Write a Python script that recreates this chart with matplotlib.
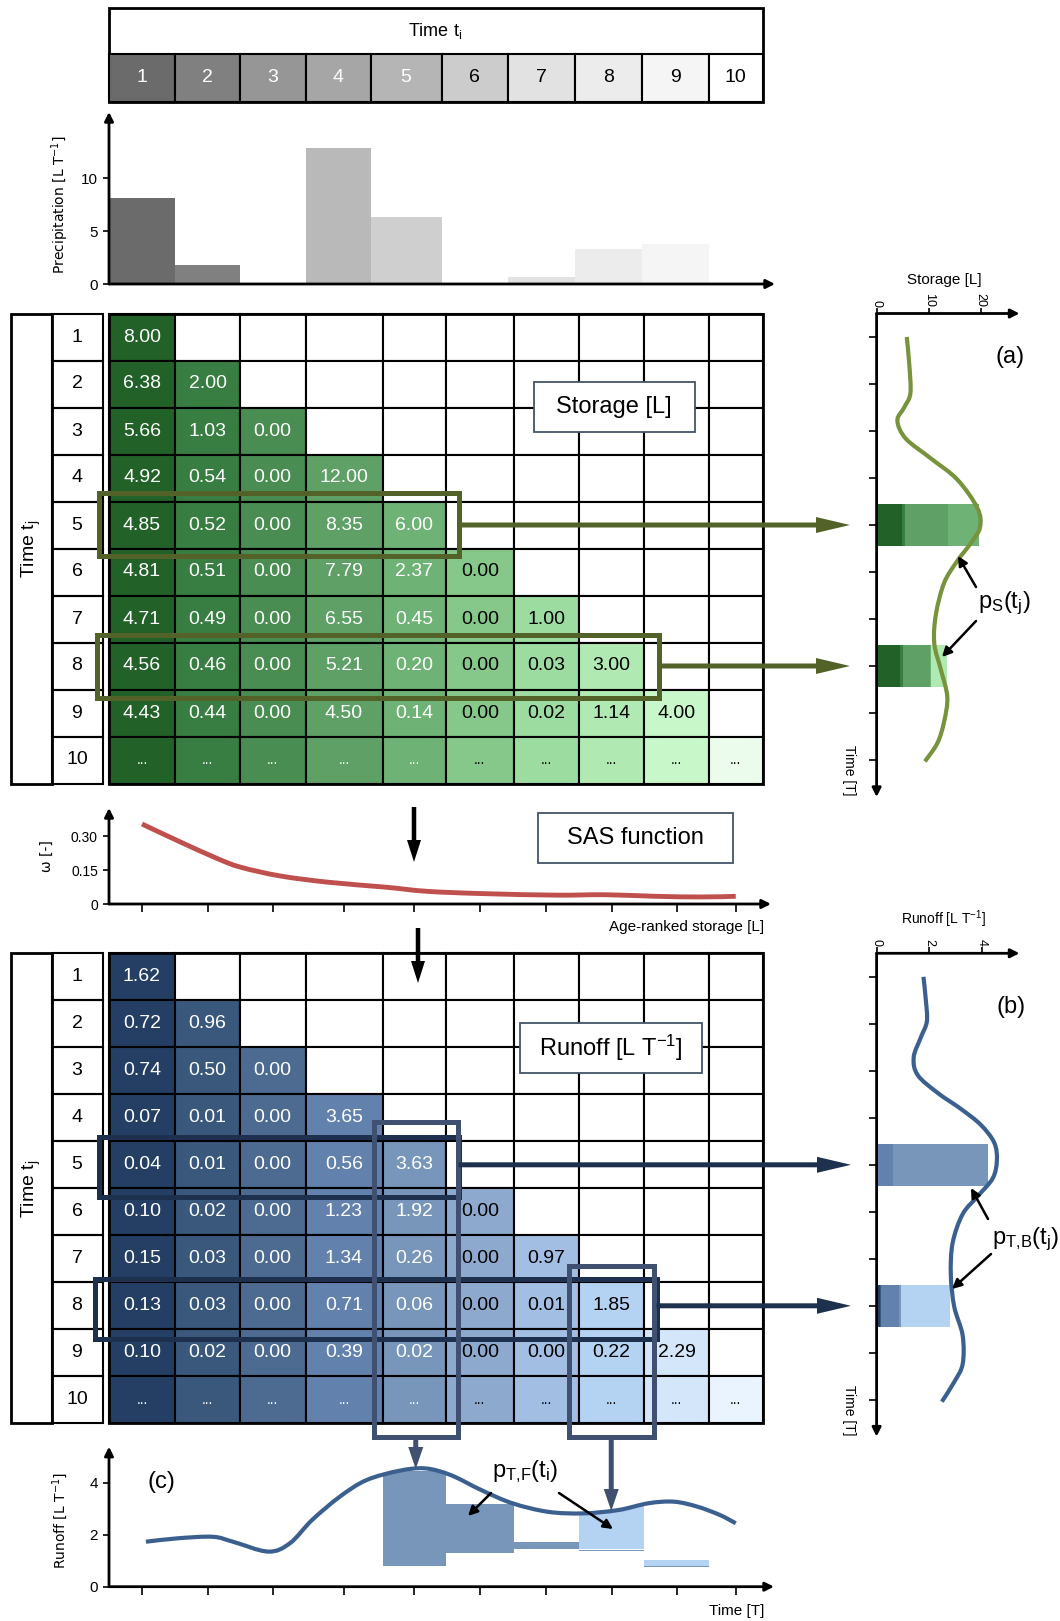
import numpy as np
import matplotlib.pyplot as plt
from matplotlib.patches import Rectangle, FancyArrow, PathPatch
from matplotlib.path import Path
from matplotlib import font_manager

names = {f.name for f in font_manager.fontManager.ttflist}
main_font = 'Liberation Sans Narrow' if 'Liberation Sans Narrow' in names else 'Liberation Sans'
plt.rcParams['font.family'] = [main_font, 'DejaVu Sans']
plt.rcParams['mathtext.default'] = 'regular'

# ---- data ----
time_steps = [1, 2, 3, 4, 5, 6, 7, 8, 9, 10]
precipitation = [8.1, 1.8, 0.0, 12.9, 6.3, 0.0, 0.7, 3.3, 3.8, 0.0]

storage = [
    [8.00],
    [6.38, 2.00],
    [5.66, 1.03, 0.00],
    [4.92, 0.54, 0.00, 12.00],
    [4.85, 0.52, 0.00, 8.35, 6.00],
    [4.81, 0.51, 0.00, 7.79, 2.37, 0.00],
    [4.71, 0.49, 0.00, 6.55, 0.45, 0.00, 1.00],
    [4.56, 0.46, 0.00, 5.21, 0.20, 0.00, 0.03, 3.00],
    [4.43, 0.44, 0.00, 4.50, 0.14, 0.00, 0.02, 1.14, 4.00],
]
runoff = [
    [1.62],
    [0.72, 0.96],
    [0.74, 0.50, 0.00],
    [0.07, 0.01, 0.00, 3.65],
    [0.04, 0.01, 0.00, 0.56, 3.63],
    [0.10, 0.02, 0.00, 1.23, 1.92, 0.00],
    [0.15, 0.03, 0.00, 1.34, 0.26, 0.00, 0.97],
    [0.13, 0.03, 0.00, 0.71, 0.06, 0.00, 0.01, 1.85],
    [0.10, 0.02, 0.00, 0.39, 0.02, 0.00, 0.00, 0.22, 2.29],
]

sas_age = [1.0, 1.53, 2.13, 2.5, 3.1, 3.78, 4.6, 5.19, 6.03, 7.16, 7.9, 8.67, 9.42, 10.0]
sas_omega = [0.353, 0.281, 0.203, 0.163, 0.124, 0.096, 0.074, 0.056, 0.046, 0.039, 0.041, 0.034, 0.031, 0.034]

storage_curve_t = [1.0, 1.6, 2.2, 2.5, 2.78, 3.16, 3.58, 4.03, 4.64, 5.05, 5.39, 5.77, 6.23, 6.91, 7.52, 8.05, 8.65, 9.18, 9.64, 10.03]
storage_curve_s = [5.8, 6.3, 6.5, 5.3, 4.0, 5.6, 10.4, 15.5, 19.4, 19.9, 18.1, 15.5, 13.0, 11.4, 11.1, 12.3, 13.6, 13.0, 11.7, 9.3]

runoff_curve_t = [1.0, 1.49, 1.95, 2.29, 2.71, 3.09, 3.47, 3.81, 4.15, 4.53, 4.91, 5.29, 5.67, 6.05, 6.66, 7.34, 8.02, 8.63, 9.24, 9.62, 10.04]
runoff_curve_q = [1.78, 1.87, 1.91, 1.68, 1.41, 1.56, 2.32, 3.2, 3.96, 4.47, 4.57, 4.41, 3.84, 3.27, 2.89, 2.82, 2.95, 3.27, 3.27, 2.95, 2.48]

flow_curve_t = [1.06, 1.54, 2.08, 2.39, 2.93, 3.24, 3.55, 3.94, 4.32, 4.79, 5.17, 5.56, 6.02, 6.49, 7.03, 7.57, 8.11, 8.57, 8.96, 9.35, 9.73, 10.08]
flow_curve_q = [1.73, 1.86, 1.92, 1.73, 1.35, 1.67, 2.56, 3.46, 4.10, 4.46, 4.55, 4.29, 3.72, 3.21, 2.88, 2.82, 2.95, 3.21, 3.27, 3.08, 2.76, 2.44]

fwd_col5_bottom = [0.81, 1.28, 1.45, 1.36, 0.77]
fwd_col8_bottom = [1.44, 0.79]

# ---- styles / layout ----
GRAYS = ['#6b6b6b', '#808080', '#969696', '#a6a6a6', '#b5b5b5', '#cccccc', '#e2e2e2', '#ececec', '#f5f5f5', '#ffffff']
PRECIP_COLORS = ['#6b6b6b', '#808080', '#969696', '#b9b9b9', '#cfcfcf', '#cccccc', '#e2e2e2', '#ececec', '#f5f5f5', '#ffffff']
GREENS = ['#226229', '#387d41', '#4a8d52', '#5ea066', '#6eb276', '#86c78a', '#9cdca0', '#b0eab2', '#c8f8ca', '#ecfcec']
BLUES = ['#243f63', '#3a587c', '#4d6b90', '#6281ac', '#7896b9', '#8daace', '#a2bee2', '#b4d2f2', '#d4e6fa', '#eaf4fe']
OLIVE = '#526229'
NAVY = '#1d304d'
SLATE = '#3f5070'
W, H = 1060, 1621
COLS = [109, 175, 240, 305.5, 382.5, 446, 513.5, 579, 644, 709, 762.5]
HDR_COLS = [109, 175, 240, 305.5, 370.5, 441.5, 508, 575, 642, 709, 762.5]
CENTERS = [(a + b) / 2 for a, b in zip(COLS[:-1], COLS[1:])]
ROW_H = 47
S_TOP, R_TOP = 313.5, 953.3

fig = plt.figure(figsize=(W / 100, H / 100), dpi=100)


def box(x0, y0, x1, y1):
    return [x0 / W, 1 - y1 / H, (x1 - x0) / W, (y1 - y0) / H]


def smooth(x, y):
    # smoothed line through the read points (cubic Bezier segments)
    pts = np.column_stack([x, y]).astype(float)
    verts, codes = [pts[0]], [Path.MOVETO]
    n = len(pts)
    for k in range(n - 1):
        p0 = pts[max(k - 1, 0)]
        p1, p2 = pts[k], pts[k + 1]
        p3 = pts[min(k + 2, n - 1)]
        verts += [p1 + (p2 - p0) / 6, p2 - (p3 - p1) / 6, p2]
        codes += [Path.CURVE4] * 3
    return verts, codes


def curve(ax, x, y, color, lw):
    verts, codes = smooth(x, y)
    ax.add_patch(PathPatch(Path(verts, codes), fill=False, ec=color, lw=lw, capstyle='butt', zorder=4))


def axis_arrows(ax, corner, ends):
    for s in ax.spines.values():
        s.set_visible(False)
    ax.patch.set_alpha(0)
    for end in ends:
        ax.annotate('', xy=end, xytext=corner, xycoords='axes fraction', textcoords='axes fraction',
                    annotation_clip=False,
                    arrowprops=dict(arrowstyle='-|>', color='black', lw=2, mutation_scale=13,
                                    shrinkA=0, shrinkB=0))


# precipitation
axp = fig.add_axes(box(109, 112, 775, 284))
axp.set_xlim(109, 775)
axp.set_ylim(0, (284 - 112) / 10.57)
axp.bar(HDR_COLS[:-1], precipitation, width=np.diff(HDR_COLS), align='edge', color=PRECIP_COLORS)
axp.set_xticks([])
axp.set_yticks([0, 5, 10])
axp.tick_params(axis='y', length=4, width=1.2, labelsize=11, pad=4)
axis_arrows(axp, (0, 0), [(0, 1), (1, 0)])

# SAS function
axs = fig.add_axes(box(109, 808, 771, 904))
axs.set_xlim(109, 771)
axs.set_ylim(0, 96 / 34 * 0.15)
curve(axs, np.interp(sas_age, time_steps, CENTERS), sas_omega, '#c0504d', 3.5)
axs.set_xticks(CENTERS)
axs.set_xticklabels([])
axs.set_yticks([0, 0.15, 0.30])
axs.set_yticklabels(['0', '0.15', '0.30'])
axs.tick_params(axis='x', length=6, width=1.2)
axs.tick_params(axis='y', length=4, width=1.2, labelsize=10, pad=4)
axis_arrows(axs, (0, 0), [(0, 1), (1, 0)])

# forward travel time chart (c)
axc = fig.add_axes(box(109, 1446.7, 774, 1586.7))
axc.set_xlim(109, 774)
axc.set_ylim(0, 140 / 26)
fx = np.interp(flow_curve_t, time_steps, CENTERS)
cv, cc = smooth(fx, flow_curve_q)
clip_path = Path(cv + [(fx[-1], 0), (fx[0], 0), (fx[0], 0)],
                 cc + [Path.LINETO, Path.LINETO, Path.CLOSEPOLY])
fwd5 = [runoff[j][4] for j in range(4, 9)]
fwd8 = [runoff[j][7] for j in range(7, 9)]
b5 = axc.bar(COLS[4:9], fwd5, width=np.diff(COLS)[4:9], bottom=fwd_col5_bottom, align='edge', color=BLUES[4])
b8 = axc.bar(COLS[7:9], fwd8, width=np.diff(COLS)[7:9], bottom=fwd_col8_bottom, align='edge', color=BLUES[7])
for b in list(b5) + list(b8):
    b.set_clip_path(clip_path, axc.transData)
curve(axc, fx, flow_curve_q, '#3b6090', 3)
axc.set_xticks(CENTERS)
axc.set_xticklabels([])
axc.set_yticks([0, 2, 4])
axc.tick_params(axis='x', length=6, width=1.2)
axc.tick_params(axis='y', length=4, width=1.2, labelsize=11, pad=4)
axis_arrows(axc, (0, 0), [(0, 1), (1, 0)])


def side_panel(top, bottom, xmax, xticks, table, colors, ct, cv, color):
    ax = fig.add_axes(box(876.6, top, 1019.5, bottom))
    ax.set_xlim(0, xmax)
    ax.set_ylim(0.5 + (bottom - top) / ROW_H, 0.5)
    for j in (5, 8):
        vals = table[j - 1]
        left = np.r_[0, np.cumsum(vals)[:-1]]
        ax.barh([j] * len(vals), vals, left=left, height=0.9, color=colors[:len(vals)])
    curve(ax, cv, ct, color, 3)
    ax.xaxis.tick_top()
    ax.set_xticks(xticks)
    ax.set_yticks(time_steps)
    ax.set_yticklabels([])
    ax.tick_params(axis='y', length=6, width=1.2)
    ax.tick_params(axis='x', length=4, width=1.2, labelsize=9, pad=1, labelrotation=270)
    axis_arrows(ax, (0, 1), [(1, 1), (0, 0)])
    return ax


side_panel(S_TOP, 797, 27.5, [0, 10, 20], storage, GREENS, storage_curve_t, storage_curve_s, '#77933c')
side_panel(R_TOP, 1436.6, 5.43, [0, 2, 4], runoff, BLUES, runoff_curve_t, runoff_curve_q, '#3b6090')

# ---- overlay: tables, boxes, arrows, labels ----
ov = fig.add_axes([0, 0, 1, 1])
ov.set_xlim(0, W)
ov.set_ylim(H, 0)
ov.axis('off')
ov.patch.set_alpha(0)

# header
ov.add_patch(Rectangle((109, 7.5), 653.5, 94.5, fc='white', ec='black', lw=2))
ov.text(435, 31, 'Time t$_i$', ha='center', va='center', fontsize=13)
for i in range(10):
    ov.add_patch(Rectangle((HDR_COLS[i], 54), HDR_COLS[i + 1] - HDR_COLS[i], 48,
                           fc=GRAYS[i], ec='black', lw=1.5))
    ov.text((HDR_COLS[i] + HDR_COLS[i + 1]) / 2, 78, str(time_steps[i]), ha='center', va='center',
            fontsize=14, color='white' if i < 5 else 'black')


def draw_table(top, table, colors):
    ov.add_patch(Rectangle((11, top), 40.5, 10 * ROW_H, fill=False, ec='black', lw=2))
    ov.text(31, top + 5 * ROW_H, 'Time t$_j$', rotation=90, ha='center', va='center', fontsize=14)
    for j in range(10):
        y0 = top + j * ROW_H
        ov.add_patch(Rectangle((51.5, y0), 51, ROW_H, fill=False, ec='black', lw=1.5))
        ov.text(77, y0 + ROW_H / 2, str(time_steps[j]), ha='center', va='center', fontsize=14)
        for i in range(10):
            if j < 9:
                filled = i <= j
                label = f'{table[j][i]:.2f}' if filled else ''
            else:
                filled = True
                label = '...'
            ov.add_patch(Rectangle((COLS[i], y0), COLS[i + 1] - COLS[i], ROW_H,
                                   fc=colors[i] if filled else 'white', ec='black', lw=1.5))
            if label:
                ov.text(CENTERS[i], y0 + ROW_H / 2, label, ha='center', va='center',
                        fontsize=10 if label == '...' else 14,
                        color='white' if i < 5 else 'black')
    ov.add_patch(Rectangle((COLS[0], top), COLS[-1] - COLS[0], 10 * ROW_H, fill=False, ec='black', lw=2))


draw_table(S_TOP, storage, GREENS)
draw_table(R_TOP, runoff, BLUES)


def label_box(x0, y0, x1, y1, text):
    ov.add_patch(Rectangle((x0, y0), x1 - x0, y1 - y0, fc='white', ec='#44546a', lw=1.3, zorder=3))
    ov.text((x0 + x1) / 2, (y0 + y1) / 2, text, ha='center', va='center', fontsize=17, zorder=4)


label_box(533.5, 382, 695, 432, 'Storage [L]')
label_box(537.5, 813, 732.5, 863, 'SAS function')
label_box(520, 1023, 701.5, 1073, 'Runoff [L T$^{-1}$]')


def frame(x0, y0, x1, y1, color):
    ov.add_patch(Rectangle((x0, y0), x1 - x0, y1 - y0, fill=False, ec=color, lw=3.6, zorder=5,
                           joinstyle='miter'))


def big_arrow(x0, y0, x1, y1, color, width=5, hw=16, hl=34):
    ov.add_patch(FancyArrow(x0, y0, x1 - x0, y1 - y0, width=width, head_width=hw, head_length=hl,
                            length_includes_head=True, color=color, lw=0, zorder=6))


# storage highlights
frame(98.5, 493, 458.5, 556, OLIVE)
frame(96.5, 635, 659, 698, OLIVE)
big_arrow(458.5, S_TOP + 4.5 * ROW_H, 850, S_TOP + 4.5 * ROW_H, OLIVE)
big_arrow(659, S_TOP + 7.5 * ROW_H, 850, S_TOP + 7.5 * ROW_H, OLIVE)

# runoff highlights
frame(98.5, 1137, 458.5, 1197, NAVY)
frame(95, 1279, 656.5, 1339, NAVY)
frame(374, 1122, 457.5, 1437, SLATE)
frame(569, 1266, 653.5, 1437, SLATE)
big_arrow(458.5, R_TOP + 4.5 * ROW_H, 851, R_TOP + 4.5 * ROW_H, NAVY)
big_arrow(656.5, R_TOP + 7.5 * ROW_H, 851, R_TOP + 7.5 * ROW_H, NAVY)
big_arrow(415.75, 1437, 415.75, 1469, SLATE, width=5, hw=15, hl=22)
big_arrow(611.25, 1437, 611.25, 1511, SLATE, width=5, hw=15, hl=22)

# black flow arrows
big_arrow(414, 807, 414, 862, 'black', width=4.5, hw=14, hl=22)
big_arrow(418, 928, 418, 983, 'black', width=4.5, hw=14, hl=22)

# axis labels
ov.text(60, 205, 'Precipitation [L T$^{-1}$]', rotation=90, ha='center', va='center', fontsize=10,
        family='DejaVu Sans')
ov.text(47, 856, 'ω [-]', rotation=90, ha='center', va='center', fontsize=10, family='DejaVu Sans')
ov.text(764, 927, 'Age-ranked storage [L]', ha='right', va='center', fontsize=11)
ov.text(60, 1520, 'Runoff [L T$^{-1}$]', rotation=90, ha='center', va='center', fontsize=10,
        family='DejaVu Sans')
ov.text(764, 1611, 'Time [T]', ha='right', va='center', fontsize=11)
ov.text(944, 280, 'Storage [L]', ha='center', va='center', fontsize=11)
ov.text(944, 919, 'Runoff [L T$^{-1}$]', ha='center', va='center', fontsize=10)
ov.text(849, 770, 'Time [T]', rotation=270, ha='center', va='center', fontsize=10)
ov.text(849, 1410, 'Time [T]', rotation=270, ha='center', va='center', fontsize=10)

# panel tags and pdf labels
ov.text(1010, 357, '(a)', ha='center', va='center', fontsize=17)
ov.text(1011, 1007, '(b)', ha='center', va='center', fontsize=17)
ov.text(161, 1482, '(c)', ha='center', va='center', fontsize=17)
ov.text(1004, 603, 'p$_S$(t$_j$)', ha='center', va='center', fontsize=17)
ov.text(1026, 1239, 'p$_{T{,}B}$(t$_j$)', ha='center', va='center', fontsize=17)
ov.text(525, 1472, 'p$_{T{,}F}$(t$_i$)', ha='center', va='center', fontsize=17)

for tail, head in [((976, 587), (958, 556)), ((976, 621), (942, 657)),
                   ((988, 1219), (971, 1188)), ((991, 1254), (952, 1289)),
                   ((491, 1493), (468, 1516)), ((559, 1493), (613, 1529))]:
    ov.annotate('', xy=head, xytext=tail, arrowprops=dict(arrowstyle='-|>', color='black', lw=1.8,
                                                          mutation_scale=14, shrinkA=0, shrinkB=0))

fig.savefig('out.png', dpi=100)
